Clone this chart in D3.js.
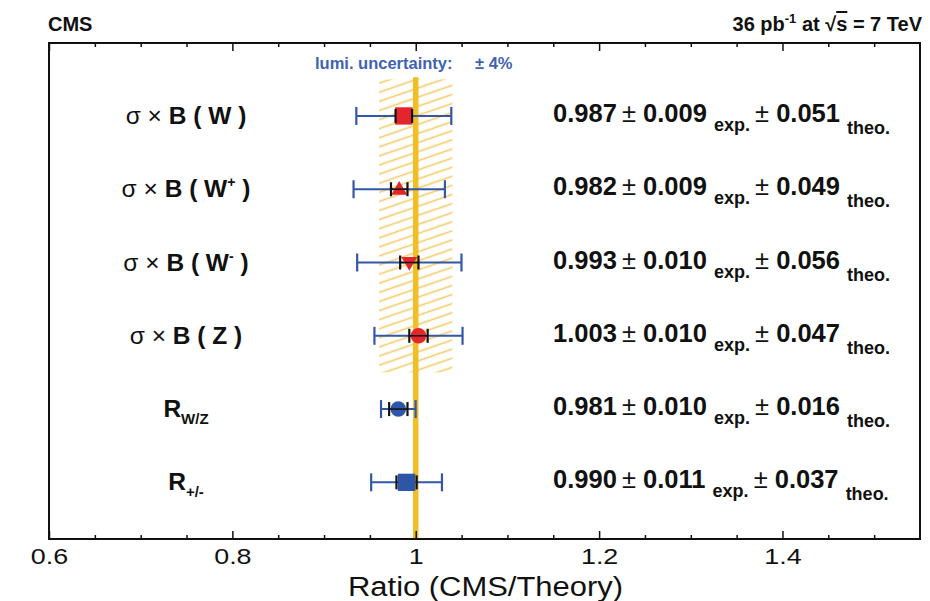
<!DOCTYPE html>
<html>
<head>
<meta charset="utf-8">
<script src="https://cdn.jsdelivr.net/npm/d3@7"></script>
<style>
  html, body { margin: 0; padding: 0; background: #fff; }
  svg { display: block; font-family: "Liberation Sans", Arial, Helvetica, sans-serif; }
</style>
</head>
<body>
<svg id="chart" width="930" height="601"></svg>
<script>
// ---------------- DATA ----------------
const processes   = ["W", "W+", "W-", "Z", "RW/Z", "R+/-"];
const ratios      = [0.987, 0.982, 0.993, 1.003, 0.981, 0.990];
const expErrors   = [0.009, 0.009, 0.010, 0.010, 0.010, 0.011];
const theoErrors  = [0.051, 0.049, 0.056, 0.047, 0.016, 0.037];
const markerTypes = ["square", "triangleUp", "triangleDown", "circle", "circle", "square"];
const markerColor = ["red", "red", "red", "red", "blue", "blue"];
const lumiUncertainty = 0.04;
const lumiProcesses = ["W", "W+", "W-", "Z"];
const majorTicks  = [0.6, 0.8, 1.0, 1.2, 1.4];
const tickLabels  = ["0.6", "0.8", "1", "1.2", "1.4"];
const minorTicks  = [0.65, 0.7, 0.75, 0.85, 0.9, 0.95, 1.05, 1.1, 1.15, 1.25, 1.3, 1.35, 1.45, 1.5];
const xDomain     = [0.6, 1.55];

// ---------------- LAYOUT ----------------
const frame = { left: 49, right: 920, top: 43, bottom: 539 };
const COLORS = { red: "#e4252b", blue: "#2d55a8", bar: "#3257a6", gold: "#f1be26", hatch: "#f4cb6a", lumi: "#3f62b2" };

const svg = d3.select("#chart");
const x = d3.scaleLinear().domain(xDomain).range([frame.left, frame.right]);
const y = d3.scaleBand().domain(processes).range([79.3, 519]).padding(0);
const yc = p => y(p) + y.bandwidth() / 2;

// hatch pattern
const defs = svg.append("defs");
const pat = defs.append("pattern")
  .attr("id", "hatch").attr("patternUnits", "userSpaceOnUse")
  .attr("width", 20).attr("height", 8.6)
  .attr("patternTransform", "rotate(-19)");
pat.append("line").attr("x1", 0).attr("x2", 20).attr("y1", 4.3).attr("y2", 4.3)
  .attr("stroke", COLORS.hatch).attr("stroke-width", 1.6);

// lumi band
const bandTop = y(lumiProcesses[0]);
const bandBot = y(lumiProcesses[lumiProcesses.length - 1]) + y.bandwidth();
svg.append("rect")
  .attr("x", x(1 - lumiUncertainty)).attr("width", x(1 + lumiUncertainty) - x(1 - lumiUncertainty))
  .attr("y", bandTop).attr("height", bandBot - bandTop)
  .attr("fill", "url(#hatch)");

// theory line at 1
svg.append("line")
  .attr("x1", x(1)).attr("x2", x(1)).attr("y1", bandTop - 2).attr("y2", frame.bottom)
  .attr("stroke", COLORS.gold).attr("stroke-width", 5.5);

// lumi text
svg.append("text").attr("x", 315).attr("y", 69)
  .attr("font-size", 16.5).attr("font-weight", "bold").attr("fill", COLORS.lumi)
  .text("lumi. uncertainty:");
svg.append("text").attr("x", 475).attr("y", 69)
  .attr("font-size", 16.5).attr("font-weight", "bold").attr("fill", COLORS.lumi)
  .text("± 4%");

// ---------------- AXES ----------------
const gBottom = svg.append("g").attr("transform", `translate(0,${frame.bottom})`);
gBottom.call(d3.axisBottom(x).tickValues(majorTicks).tickSizeInner(-8).tickSizeOuter(0)
  .tickPadding(10).tickFormat((d, i) => tickLabels[i]));
const gBottomMinor = svg.append("g").attr("transform", `translate(0,${frame.bottom})`);
gBottomMinor.call(d3.axisBottom(x).tickValues(minorTicks).tickSizeInner(-4).tickSizeOuter(0).tickFormat(""));
const gTop = svg.append("g").attr("transform", `translate(0,${frame.top})`);
gTop.call(d3.axisTop(x).tickValues(majorTicks).tickSizeInner(-8).tickSizeOuter(0).tickFormat(""));
const gTopMinor = svg.append("g").attr("transform", `translate(0,${frame.top})`);
gTopMinor.call(d3.axisTop(x).tickValues(minorTicks).tickSizeInner(-4).tickSizeOuter(0).tickFormat(""));

svg.selectAll(".domain").remove();
svg.selectAll(".tick line").attr("stroke", "#111").attr("stroke-width", 1.5);
gBottom.attr("font-size", 21.5).attr("font-family", "Liberation Sans, Arial, sans-serif");
gBottom.selectAll(".tick text").attr("fill", "#111").attr("transform", "scale(1.25,1)");

// frame
svg.append("rect")
  .attr("x", frame.left).attr("y", frame.top)
  .attr("width", frame.right - frame.left).attr("height", frame.bottom - frame.top)
  .attr("fill", "none").attr("stroke", "#111").attr("stroke-width", 2);

// axis title
svg.append("text").attr("x", 348).attr("y", 596)
  .attr("font-size", 27).attr("fill", "#111")
  .attr("textLength", 275).attr("lengthAdjust", "spacingAndGlyphs")
  .text("Ratio (CMS/Theory)");

// header
svg.append("text").attr("x", 48).attr("y", 31).attr("font-size", 20)
  .attr("font-weight", "bold").attr("fill", "#111").text("CMS");
const hdr = svg.append("text").attr("x", 922).attr("y", 31).attr("text-anchor", "end")
  .attr("font-size", 20).attr("font-weight", "bold").attr("fill", "#111");
hdr.append("tspan").text("36 pb");
hdr.append("tspan").attr("font-size", 13).attr("dy", -8).text("-1");
hdr.append("tspan").attr("dy", 8).text(" at  √");
hdr.append("tspan").attr("text-decoration", "overline").text("s");
hdr.append("tspan").text(" = 7 TeV");

// ---------------- DATA MARKS ----------------
const totErr = ratios.map((r, i) => Math.sqrt(expErrors[i] ** 2 + theoErrors[i] ** 2));

const rows = svg.append("g").selectAll("g").data(processes).join("g")
  .attr("transform", p => `translate(0,${yc(p)})`);

// total error bars (blue)
rows.append("line")
  .attr("x1", (p, i) => x(ratios[i] - totErr[i])).attr("x2", (p, i) => x(ratios[i] + totErr[i]))
  .attr("y1", 0).attr("y2", 0).attr("stroke", COLORS.bar).attr("stroke-width", 2);
[-1, 1].forEach(s => {
  rows.append("line")
    .attr("x1", (p, i) => x(ratios[i] + s * totErr[i])).attr("x2", (p, i) => x(ratios[i] + s * totErr[i]))
    .attr("y1", -9).attr("y2", 9).attr("stroke", COLORS.bar).attr("stroke-width", 2.2);
});

// markers
const symbolFor = t => ({
  square: d3.symbol().type(d3.symbolSquare).size(300),
  triangleUp: d3.symbol().type(d3.symbolTriangle).size(110),
  triangleDown: d3.symbol().type(d3.symbolTriangle).size(110),
  circle: d3.symbol().type(d3.symbolCircle).size(190)
}[t]);
rows.append("path")
  .attr("d", (p, i) => symbolFor(markerTypes[i])())
  .attr("transform", (p, i) => `translate(${x(ratios[i])},${markerTypes[i] === "triangleUp" ? 1 : markerTypes[i] === "triangleDown" ? -1 : 0})` + (markerTypes[i] === "triangleDown" ? " rotate(180)" : ""))
  .attr("fill", (p, i) => COLORS[markerColor[i]]);

// experimental error caps (black)
rows.append("line")
  .attr("x1", (p, i) => x(ratios[i] - expErrors[i])).attr("x2", (p, i) => x(ratios[i] + expErrors[i]))
  .attr("y1", 0).attr("y2", 0).attr("stroke", "#111").attr("stroke-width", 1.5)
  .attr("opacity", (p, i) => markerTypes[i] === "square" ? 0 : 1);
[-1, 1].forEach(s => {
  rows.append("line")
    .attr("x1", (p, i) => x(ratios[i] + s * expErrors[i])).attr("x2", (p, i) => x(ratios[i] + s * expErrors[i]))
    .attr("y1", -7).attr("y2", 7).attr("stroke", "#111").attr("stroke-width", 2.2);
});

// left labels
const labelX = 186;
rows.each(function (p, i) {
  const t = d3.select(this).append("text").attr("x", labelX).attr("y", 8)
    .attr("text-anchor", "middle").attr("font-size", 24.5).attr("fill", "#111");
  if (p.startsWith("R")) {
    t.append("tspan").attr("font-weight", "bold").text("R");
    t.append("tspan").attr("font-weight", "bold").attr("font-size", 15).attr("dy", 7).text(p.slice(1));
  } else {
    t.append("tspan").text("σ × ");
    t.append("tspan").attr("font-weight", "bold").text("B ( " + p[0]);
    if (p.length > 1) {
      t.append("tspan").attr("font-weight", "bold").attr("font-size", 14).attr("dy", -10).text(p.slice(1) === "+" ? "+" : "-");
      t.append("tspan").attr("font-weight", "bold").attr("dy", 10).text(" )");
    } else {
      t.append("tspan").attr("font-weight", "bold").text(" )");
    }
  }
});

// right result text
rows.each(function (p, i) {
  const t = d3.select(this).append("text").attr("x", 553).attr("y", 6)
    .attr("font-size", 25.5).attr("font-weight", "bold").attr("fill", "#111");
  t.append("tspan").text(ratios[i].toFixed(3) + "\u2009");
  t.append("tspan").attr("font-weight", "normal").text("±");
  t.append("tspan").text(" " + expErrors[i].toFixed(3) + " ");
  t.append("tspan").attr("font-size", 18).attr("dy", 9).text("exp.");
  t.append("tspan").attr("dy", -9).attr("font-weight", "normal").text("\u2009±");
  t.append("tspan").text(" " + theoErrors[i].toFixed(3) + " ");
  t.append("tspan").attr("font-size", 18).attr("dy", 12).text("theo.");
});
</script>
</body>
</html>
